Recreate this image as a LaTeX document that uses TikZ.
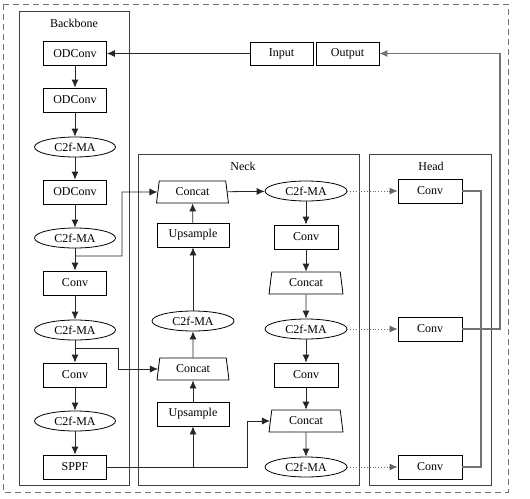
\documentclass[tikz,border=0pt]{standalone}
\usepackage{fontspec}
\setmainfont{Liberation Serif}
\usetikzlibrary{shapes.geometric,arrows.meta}
\begin{document}
\begin{tikzpicture}[x=1pt,y=-1pt,
  font=\fontsize{12}{14}\selectfont,
  box/.style={draw=black,line width=0.8pt,rectangle,minimum width=63pt,minimum height=24pt,inner sep=0pt},
  wbox/.style={box,minimum width=72pt},
  ell/.style={draw=black,line width=0.8pt,ellipse,minimum width=81pt,minimum height=20pt,inner sep=0pt},
  trap/.style={draw=black,line width=0.8pt,trapezium,trapezium stretches body,trapezium left angle=71,trapezium right angle=71,minimum width=72pt,minimum height=22pt,inner sep=0pt},
  cont/.style={draw=black!75,line width=0.8pt},
  arr/.style={draw=black!85,line width=0.8pt,-{Latex[length=8pt,width=7pt]}},
  ln/.style={draw=black!85,line width=0.8pt},
  dotarr/.style={draw=black!60,line width=0.8pt,dotted,-{Latex[length=8pt,width=7pt]}},
  gln/.style={draw=black!55,line width=1.1pt},
  garr/.style={gln,-{Latex[length=8pt,width=7pt]}},
  lbl/.style={inner sep=0pt}
]
\useasboundingbox (0,0) rectangle (530,498);
% outer dashed frame
\draw[draw=black!55,line width=0.8pt,dash pattern=on 6pt off 4pt] (3,4) rectangle (508,492);
% containers
\draw[cont] (19,11) rectangle (129,485);
\draw[cont] (138,154) rectangle (359,485);
\draw[cont] (369,154) rectangle (491,485);
\node[lbl] (tbb) at (74,23) {Backbone};
\node[lbl] (tnk) at (243,166) {Neck};
\node[lbl] (thd) at (431,166) {Head};
% input/output
\node[box,minimum height=23pt] (inp) at (281.5,53.5) {Input};
\node[box,minimum height=23pt] (outp) at (347.5,53.5) {Output};
% backbone
\node[box] (b1) at (75,53.5) {ODConv};
\node[box] (b2) at (75,100) {ODConv};
\node[ell] (b3) at (75,147) {C2f-MA};
\node[box] (b4) at (75,192) {ODConv};
\node[ell] (b5) at (75,238) {C2f-MA};
\node[box] (b6) at (75,283) {Conv};
\node[ell] (b7) at (75,330) {C2f-MA};
\node[box] (b8) at (75,375) {Conv};
\node[ell] (b9) at (75,421) {C2f-MA};
\node[box] (b10) at (75,467) {SPPF};
% neck column 1
\node[trap] (n1) at (192.5,192) {Concat};
\node[wbox] (n2) at (193,235) {Upsample};
\node[ell,minimum width=82pt] (n3) at (193,321) {C2f-MA};
\node[trap] (n4) at (193,369) {Concat};
\node[wbox] (n5) at (193,414) {Upsample};
% neck column 2
\node[ell,minimum width=82pt] (m1) at (306,191) {C2f-MA};
\node[box,minimum width=64pt] (m2) at (306,237) {Conv};
\node[trap,minimum width=74pt] (m3) at (306,283) {Concat};
\node[ell,minimum width=82pt] (m4) at (306,329) {C2f-MA};
\node[box,minimum width=64pt] (m5) at (306,375) {Conv};
\node[trap,minimum width=74pt] (m6) at (306,421) {Concat};
\node[ell,minimum width=82pt] (m7) at (306,467) {C2f-MA};
% head
\node[box,minimum width=64pt] (h1) at (430,191) {Conv};
\node[box,minimum width=64pt] (h2) at (430,329) {Conv};
\node[box,minimum width=64pt] (h3) at (430,467) {Conv};
% coordinates
\coordinate (c1) at (75,256);
\coordinate (c2) at (122,256);
\coordinate (c3) at (122,192);
\coordinate (d1) at (75,348);
\coordinate (d2) at (118,348);
\coordinate (d3) at (118,369);
\coordinate (e1) at (193,467);
\coordinate (e2) at (247,467);
\coordinate (e3) at (247,421);
\coordinate (f1) at (481,191);
\coordinate (f2) at (481,467);
\coordinate (g1) at (500,329);
\coordinate (g2) at (500,53.5);
% backbone connectors
\draw[arr] (inp) -- (b1);
\draw[arr] (b1) -- (b2);
\draw[arr] (b2) -- (b3);
\draw[arr] (b3) -- (b4);
\draw[arr] (b4) -- (b5);
\draw[arr] (b5) -- (b6);
\draw[arr] (b6) -- (b7);
\draw[arr] (b7) -- (b8);
\draw[arr] (b8) -- (b9);
\draw[arr] (b9) -- (b10);
% skip connections
\draw[arr] (c1) -- (c2) -- (c3) -- (n1);
\draw[arr] (d1) -- (d2) -- (d3) -- (n4);
\draw[ln] (b10) -- (e1);
\draw[arr] (e1) -- (n5);
\draw[arr] (e1) -- (e2) -- (e3) -- (m6);
% neck column 1
\draw[arr] (n5) -- (n4);
\draw[arr] (n4) -- (n3);
\draw[arr] (n3) -- (n2);
\draw[arr] (n2) -- (n1);
\draw[arr] (n1) -- (m1);
% neck column 2
\draw[arr] (m1) -- (m2);
\draw[arr] (m2) -- (m3);
\draw[arr] (m3) -- (m4);
\draw[arr] (m4) -- (m5);
\draw[arr] (m5) -- (m6);
\draw[arr] (m6) -- (m7);
% to head
\draw[dotarr] (m1) -- (h1);
\draw[dotarr] (m4) -- (h2);
\draw[dotarr] (m7) -- (h3);
% head outputs
\draw[gln] (h1.east) -- (f1) -- (f2) -- (h3.east);
\draw[garr] (h2.east) -- (g1) -- (g2) -- (outp.east);
\end{tikzpicture}
\end{document}
